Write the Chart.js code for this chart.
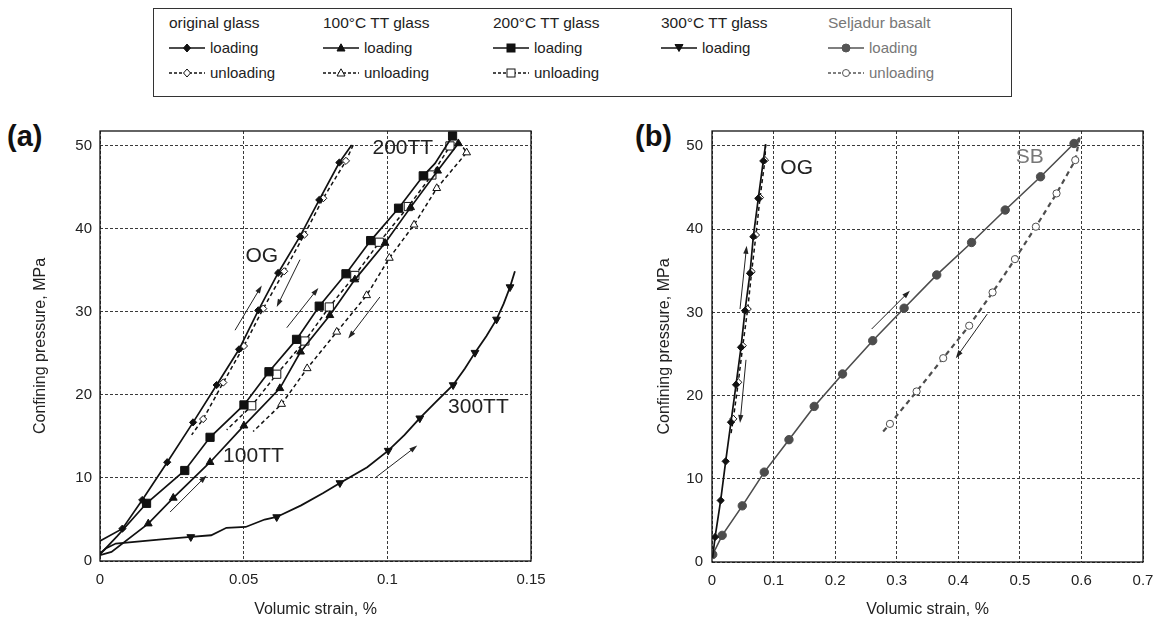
<!DOCTYPE html>
<html>
<head>
<meta charset="utf-8">
<script src="https://cdn.jsdelivr.net/npm/chart.js@4.4.1/dist/chart.umd.min.js"></script>
<style>
  html,body{margin:0;padding:0;background:#fff;}
  body{width:1166px;height:623px;position:relative;overflow:hidden;font-family:"Liberation Sans",Arial,sans-serif;}
  .cw{position:absolute;}
  .plabel{position:absolute;font-weight:bold;font-size:29px;color:#111;line-height:30px;}
  #legend{position:absolute;left:153px;top:8px;width:859px;height:89px;border:1px solid #333;box-sizing:border-box;}
  .lh{position:absolute;font-size:15.5px;line-height:18px;white-space:nowrap;}
  .li{position:absolute;font-size:15px;line-height:18px;white-space:nowrap;}
  .li svg{position:absolute;left:0;top:3px;}
  .li span{position:absolute;left:41px;top:0;}
</style>
</head>
<body>
<div id="legend"></div>
<div class="plabel" style="left:7px;top:121px;">(a)</div>
<div class="plabel" style="left:635px;top:121px;">(b)</div>
<div class="cw" style="left:0;top:110px;width:560px;height:513px;"><canvas id="cA"></canvas></div>
<div class="cw" style="left:600px;top:110px;width:566px;height:513px;"><canvas id="cB"></canvas></div>
<script>
// ---------------- DATA ----------------
// Panel (a) tick labels
const xTicksA = [0, 0.05, 0.1, 0.15];
const yTicks  = [0, 10, 20, 30, 40, 50];
// Panel (b) tick labels
const xTicksB = [0, 0.1, 0.2, 0.3, 0.4, 0.5, 0.6, 0.7];

// original glass (a)
const ogLoadX   = [0, 0.0078, 0.0147, 0.0234, 0.0324, 0.0406, 0.0484, 0.0551, 0.0620, 0.0696, 0.0763, 0.0833, 0.0876];
const ogLoadY   = [2.4, 3.9, 7.35, 11.9, 16.7, 21.2, 25.5, 30.2, 34.7, 39.1, 43.5, 48.0, 50.1];
const ogUnloadX = [0.0881, 0.0856, 0.0777, 0.0711, 0.0641, 0.0568, 0.0501, 0.0429, 0.0359, 0.0319];
const ogUnloadY = [50.1, 48.2, 43.7, 39.3, 34.9, 30.4, 25.9, 21.5, 17.1, 15.2];
// 100°C TT glass
const tt100LoadX   = [0, 0.004, 0.0168, 0.0255, 0.0383, 0.0501, 0.0626, 0.0698, 0.0800, 0.0887, 0.0992, 0.1081, 0.1175, 0.1247];
const tt100LoadY   = [0.7, 1.1, 4.5, 7.6, 11.9, 16.3, 20.8, 25.2, 29.6, 33.9, 38.3, 42.6, 47.0, 50.3];
const tt100UnloadX = [0.1250, 0.1276, 0.1172, 0.1093, 0.1007, 0.0928, 0.0824, 0.0721, 0.0632, 0.0533];
const tt100UnloadY = [50.5, 49.2, 44.9, 40.5, 36.5, 32.0, 27.6, 23.2, 18.9, 15.6];
// 200°C TT glass
const tt200LoadX   = [0, 0.006, 0.0162, 0.0295, 0.0383, 0.0501, 0.0588, 0.0684, 0.0763, 0.0856, 0.0942, 0.1039, 0.1125, 0.1166, 0.1227];
const tt200LoadY   = [0.8, 3.0, 6.95, 10.9, 14.9, 18.8, 22.8, 26.7, 30.7, 34.6, 38.6, 42.5, 46.4, 47.9, 51.2];
const tt200UnloadX = [0.1227, 0.1218, 0.1155, 0.1073, 0.0972, 0.0887, 0.0798, 0.0713, 0.0615, 0.0528, 0.0441];
const tt200UnloadY = [51.2, 50.0, 46.5, 42.7, 38.4, 34.4, 30.6, 26.5, 22.5, 18.7, 15.8];
// 300°C TT glass
const tt300LoadX = [0, 0.002, 0.0055, 0.0214, 0.0316, 0.0387, 0.0440, 0.0507, 0.0573, 0.0615, 0.0700, 0.0777, 0.0835, 0.0930, 0.1003, 0.1060, 0.1113, 0.1170, 0.1229, 0.1270, 0.1305, 0.1345, 0.1380, 0.1405, 0.1427, 0.1444];
const tt300LoadY = [0.9, 1.5, 2.1, 2.6, 2.9, 3.1, 4.0, 4.1, 5.0, 5.3, 6.7, 8.2, 9.4, 11.3, 13.3, 15.2, 17.2, 19.2, 21.2, 23.2, 25.1, 27.1, 29.1, 31.0, 33.0, 34.9];

// Panel (b): original glass
const bOgLoadX   = [0.001, 0.005, 0.0141, 0.0222, 0.0308, 0.0390, 0.0471, 0.0536, 0.0617, 0.0671, 0.0752, 0.0833, 0.0871];
const bOgLoadY   = [0.5, 3.0, 7.4, 12.1, 16.8, 21.3, 25.8, 30.2, 34.7, 39.1, 43.7, 48.2, 50.2];
const bOgUnloadX = [0.0871, 0.0860, 0.0780, 0.0714, 0.0644, 0.0580, 0.0500, 0.0427, 0.0346, 0.0310];
const bOgUnloadY = [50.2, 48.3, 43.8, 39.3, 34.9, 30.4, 26.0, 21.6, 17.2, 15.5];
// Seljadur basalt
const sbLoadX   = [0.0012, 0.0165, 0.0492, 0.0849, 0.125, 0.166, 0.212, 0.261, 0.312, 0.365, 0.4216, 0.4762, 0.5336, 0.588, 0.597];
const sbLoadY   = [0.9, 3.2, 6.75, 10.8, 14.7, 18.7, 22.6, 26.6, 30.5, 34.5, 38.4, 42.3, 46.3, 50.3, 51.0];
const sbUnloadX = [0.597, 0.590, 0.5596, 0.526, 0.492, 0.4557, 0.4177, 0.3755, 0.3323, 0.289, 0.277];
const sbUnloadY = [51.0, 48.3, 44.3, 40.3, 36.4, 32.4, 28.4, 24.5, 20.5, 16.6, 15.6];

// Direction arrows [x1, y1, x2(head), y2(head)] in data units
const arrowsA = [[0.047, 27.8, 0.0563, 33.2], [0.0696, 36.3, 0.0615, 30.6], [0.0650, 28.1, 0.0760, 32.9],
                 [0.0974, 31.8, 0.0864, 26.8], [0.0244, 5.9, 0.0371, 10.3], [0.0957, 10.0, 0.1104, 13.9]];
const arrowsB = [[0.0455, 30.4, 0.0563, 38.0], [0.0552, 24.3, 0.0455, 16.7], [0.2593, 28.0, 0.3214, 32.6], [0.447, 29.8, 0.396, 24.5]];
// In-plot labels [text, x, y]
const labelsA = [['OG', 0.0563, 36.7], ['200TT', 0.1054, 49.7], ['100TT', 0.0534, 12.6], ['300TT', 0.1317, 18.5]];
const labelsB = [['OG', 0.1375, 47.3], ['SB', 0.516, 48.6]];

// ---------------- STYLE ----------------
const BLACK = '#111111';
const GREY = '#4d4d4d';
const FONT = '"Liberation Sans", Arial, sans-serif';

function pts(xs, ys) { return xs.map((x, i) => ({x: x, y: ys[i]})); }

function series(xs, ys, o) {
  const noMark = o.noMark || [];
  const r = o.r || 4;
  return {
    data: pts(xs, ys),
    showLine: true,
    fill: false,
    tension: 0,
    borderColor: o.color,
    borderWidth: o.lw || 1.6,
    borderDash: o.dash || [],
    pointStyle: o.style,
    rotation: o.rot || 0,
    pointRadius: ctx => noMark.includes(ctx.dataIndex) ? 0 : r,
    pointHoverRadius: ctx => noMark.includes(ctx.dataIndex) ? 0 : r,
    pointBackgroundColor: o.open ? '#ffffff' : o.color,
    pointBorderColor: o.color,
    pointBorderWidth: 1,
    order: o.order || 0
  };
}

const framePlugin = {
  id: 'frame',
  beforeDatasetsDraw(chart) {
    const a = chart.chartArea, c = chart.ctx;
    c.save();
    c.strokeStyle = '#111';
    c.lineWidth = 1.3;
    c.strokeRect(a.left, a.top, a.right - a.left, a.bottom - a.top);
    c.restore();
  }
};

const annotPlugin = {
  id: 'annot',
  afterDatasetsDraw(chart, args, opts) {
    const c = chart.ctx, xs = chart.scales.x, ys = chart.scales.y;
    c.save();
    c.strokeStyle = '#222';
    c.fillStyle = '#222';
    c.lineWidth = 1;
    (opts.arrows || []).forEach(a => {
      const x1 = xs.getPixelForValue(a[0]), y1 = ys.getPixelForValue(a[1]);
      const x2 = xs.getPixelForValue(a[2]), y2 = ys.getPixelForValue(a[3]);
      const ang = Math.atan2(y2 - y1, x2 - x1);
      const L = 8, W = 2.6;
      c.beginPath();
      c.moveTo(x1, y1);
      c.lineTo(x2 - Math.cos(ang) * L * 0.8, y2 - Math.sin(ang) * L * 0.8);
      c.stroke();
      c.beginPath();
      c.moveTo(x2, y2);
      c.lineTo(x2 - Math.cos(ang) * L - Math.sin(ang) * W, y2 - Math.sin(ang) * L + Math.cos(ang) * W);
      c.lineTo(x2 - Math.cos(ang) * L + Math.sin(ang) * W, y2 - Math.sin(ang) * L - Math.cos(ang) * W);
      c.closePath();
      c.fill();
    });
    c.font = '21px ' + FONT;
    c.textAlign = 'center';
    c.textBaseline = 'middle';
    (opts.labels || []).forEach(l => {
      c.fillStyle = (opts.labelColors && opts.labelColors[l[0]]) || '#222';
      c.fillText(l[0], xs.getPixelForValue(l[1]), ys.getPixelForValue(l[2]));
    });
    c.restore();
  }
};

function makeOptions(xTicks, xMax, yWidth, yTitlePad, yTickPad, padRight, xHeight) {
  return {
    responsive: true,
    maintainAspectRatio: false,
    animation: false,
    events: [],
    layout: {padding: {top: 21, right: padRight, left: 0, bottom: 0}},
    plugins: {legend: {display: false}, tooltip: {enabled: false}},
    scales: {
      x: {
        type: 'linear', min: 0, max: xMax,
        afterBuildTicks: s => { s.ticks = xTicks.map(v => ({value: v})); },
        afterFit: s => { s.height = xHeight; },
        ticks: {padding: 10, color: '#222', font: {family: FONT, size: 15}, callback: v => String(v), maxRotation: 0, autoSkip: false},
        grid: {color: '#3a3a3a', lineWidth: 1, drawTicks: false},
        border: {display: false, dash: [3, 2]},
        title: {display: true, text: 'Volumic strain, %', color: '#222', font: {family: FONT, size: 16}, padding: {top: 0, bottom: 4}}
      },
      y: {
        type: 'linear', min: 0, max: 51.8,
        afterBuildTicks: s => { s.ticks = yTicks.map(v => ({value: v})); },
        afterFit: s => { s.width = yWidth; },
        ticks: {padding: yTickPad, color: '#222', font: {family: FONT, size: 15}, callback: v => String(v)},
        grid: {color: '#3a3a3a', lineWidth: 1, drawTicks: false},
        border: {display: false, dash: [3, 2]},
        title: {display: true, text: 'Confining pressure, MPa', color: '#222', font: {family: FONT, size: 16}, padding: {top: yTitlePad, bottom: 0}}
      }
    }
  };
}

// ---------------- CHART (a) ----------------
const optA = makeOptions(xTicksA, 0.15, 100, 31, 8, 29, 62);
optA.plugins.annot = {arrows: arrowsA, labels: labelsA};
new Chart(document.getElementById('cA'), {
  type: 'scatter',
  data: {datasets: [
    series(tt300LoadX, tt300LoadY, {color: BLACK, style: 'triangle', rot: 180, r: 4.5, lw: 1.8,
      noMark: [0, 1, 2, 3, 5, 6, 7, 8, 10, 11, 13, 15, 17, 19, 21, 23, 25]}),
    series(tt200LoadX, tt200LoadY, {color: BLACK, style: 'rect', r: 5.8, lw: 1.7, noMark: [0, 1, 13]}),
    series(tt100LoadX, tt100LoadY, {color: BLACK, style: 'triangle', r: 4.5, lw: 1.7, noMark: [0, 1]}),
    series(ogLoadX, ogLoadY, {color: BLACK, style: 'rectRot', r: 3.6, lw: 1.7, noMark: [0, 12]}),
    series(tt200UnloadX, tt200UnloadY, {color: BLACK, style: 'rect', r: 5.8, open: true, lw: 1.5, dash: [4, 3], noMark: [0, 10]}),
    series(tt100UnloadX, tt100UnloadY, {color: BLACK, style: 'triangle', r: 4.5, open: true, lw: 1.5, dash: [4, 3], noMark: [0, 9]}),
    series(ogUnloadX, ogUnloadY, {color: BLACK, style: 'rectRot', r: 3.6, open: true, lw: 1.5, dash: [4, 3], noMark: [0, 9]})
  ]},
  options: optA,
  plugins: [framePlugin, annotPlugin]
});

// ---------------- CHART (b) ----------------
const optB = makeOptions(xTicksB, 0.7, 112, 55, 9, 23, 61);
optB.plugins.annot = {arrows: arrowsB, labels: labelsB, labelColors: {SB: '#777'}};
new Chart(document.getElementById('cB'), {
  type: 'scatter',
  data: {datasets: [
    series(bOgLoadX, bOgLoadY, {color: BLACK, style: 'rectRot', r: 3.6, lw: 1.7, noMark: [0, 12]}),
    series(bOgUnloadX, bOgUnloadY, {color: BLACK, style: 'rectRot', r: 3.6, open: true, lw: 1.5, dash: [4, 3], noMark: [0, 9]}),
    series(sbLoadX, sbLoadY, {color: GREY, style: 'circle', r: 4.2, lw: 1.6, noMark: [14]}),
    series(sbUnloadX, sbUnloadY, {color: GREY, style: 'circle', r: 3.6, open: true, lw: 2.2, dash: [5, 4], noMark: [0, 10]})
  ]},
  options: optB,
  plugins: [framePlugin, annotPlugin]
});

// ---------------- LEGEND ----------------
const legendGroups = [
  {title: 'original glass', items: [['loading', 'diamond', false], ['unloading', 'diamond', true]]},
  {title: '100°C TT glass', items: [['loading', 'tri', false], ['unloading', 'tri', true]]},
  {title: '200°C TT glass', items: [['loading', 'square', false], ['unloading', 'square', true]]},
  {title: '300°C TT glass', items: [['loading', 'tridown', false]]},
  {title: 'Seljadur basalt', items: [['loading', 'circle', false], ['unloading', 'circle', true]]}
];
const legendColX = [15, 169, 339, 507, 674];
const legendRowY = [5, 30, 55];
const legendInk = ['#111', '#111', '#111', '#111', '#555'];
const legendText = ['#222', '#222', '#222', '#222', '#777'];

function markerSvg(shape, open, ink) {
  const fill = open ? '#fff' : ink;
  const s = 'fill="' + fill + '" stroke="' + ink + '" stroke-width="1"';
  if (shape === 'diamond') return '<polygon points="18,2 21.5,6 18,10 14.5,6" ' + s + '/>';
  if (shape === 'tri') return '<polygon points="18,1.8 22,9 14,9" ' + s + '/>';
  if (shape === 'tridown') return '<polygon points="14,2.5 22,2.5 18,9.5" ' + s + '/>';
  if (shape === 'square') return '<rect x="14" y="2" width="8" height="8" ' + s + '/>';
  return '<circle cx="18" cy="6" r="' + (open ? 3.5 : 4) + '" ' + s + '/>';
}
const lg = document.getElementById('legend');
legendGroups.forEach((g, ci) => {
  const h = document.createElement('div');
  h.className = 'lh';
  h.style.left = legendColX[ci] + 'px';
  h.style.top = legendRowY[0] + 'px';
  h.style.color = legendText[ci];
  h.textContent = g.title;
  lg.appendChild(h);
  g.items.forEach((it, ri) => {
    const d = document.createElement('div');
    d.className = 'li';
    d.style.left = legendColX[ci] + 'px';
    d.style.top = legendRowY[ri + 1] + 'px';
    d.style.color = legendText[ci];
    const dash = it[2] ? ' stroke-dasharray="3,2"' : '';
    d.innerHTML = '<svg width="36" height="12" viewBox="0 0 36 12"><line x1="0" y1="6" x2="36" y2="6" stroke="' + legendInk[ci] +
      '" stroke-width="1.6"' + dash + '/>' + markerSvg(it[1], it[2], legendInk[ci]) + '</svg><span>' + it[0] + '</span>';
    lg.appendChild(d);
  });
});
</script>
</body>
</html>
